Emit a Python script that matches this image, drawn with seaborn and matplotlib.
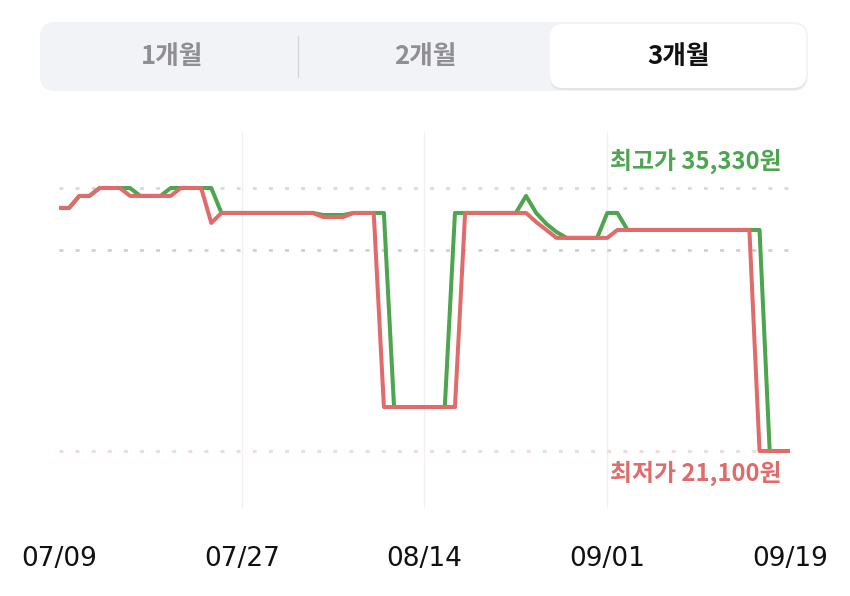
import matplotlib
matplotlib.use('Agg')
import matplotlib.pyplot as plt
import matplotlib.dates as mdates
from matplotlib.patches import FancyBboxPatch
import seaborn as sns
import numpy as np
import pandas as pd

# data (won per day, 07/09 .. 09/19)
dates = pd.date_range('2024-07-09', '2024-09-19', freq='D')
high_price = ([34250, 34250, 34900, 34900, 35330, 35330, 35330, 35330, 34900, 34900, 34900,
               35330, 35330, 35330, 35330, 35330]
              + [33980] * 10 + [33870, 33870, 33870] + [33980] * 4 + [23480] * 6
              + [33980] * 7 + [34900, 33980, 33390, 32950] + [32630] * 4
              + [33980, 33980] + [33060] * 14 + [21100] * 3)
low_price = ([34250, 34250, 34900, 34900, 35330, 35330, 35330, 34900, 34900, 34900, 34900,
              34900, 35330, 35330, 35330, 33440]
             + [33980] * 10 + [33760, 33760, 33760] + [33980] * 3 + [23480] * 8
             + [33980] * 7 + [33490, 33060] + [32630] * 6 + [33060] * 14 + [21100] * 4)
max_price = 35330
min_price = 21100
avg_price = 31980
tab_labels = ['1개월', '2개월', '3개월']
max_label = '최고가 35,330원'
min_label = '최저가 21,100원'

green = '#4DA64F'
red = '#E06B6B'

df = pd.DataFrame({
    'date': list(dates) * 2,
    'price': high_price + low_price,
    'kind': ['high'] * len(dates) + ['low'] * len(dates),
})

sns.set_theme(style='white')
plt.rcParams['font.family'] = ['Noto Sans CJK KR', 'DejaVu Sans']

W, H = 850, 596
fig = plt.figure(figsize=(W / 100, H / 100), dpi=100)
fig.set_facecolor('white')

# tab bar in pixel coords
bg = fig.add_axes([0, 0, 1, 1])
bg.set_xlim(0, W)
bg.set_ylim(H, 0)
bg.axis('off')
bg.add_patch(FancyBboxPatch((40, 22), 768, 69, boxstyle='round,pad=0,rounding_size=15',
                            fc='#F2F3F6', ec='none'))
bg.add_patch(FancyBboxPatch((550, 26), 256, 64, boxstyle='round,pad=0,rounding_size=13',
                            fc='#E2E3E7', ec='none'))
bg.add_patch(FancyBboxPatch((550, 24), 256, 64, boxstyle='round,pad=0,rounding_size=13',
                            fc='white', ec='none'))
bg.plot([298, 298], [36, 77], color='#D6D7DB', lw=1)
for lab, cx, col in zip(tab_labels, [172, 425, 679], ['#8E8E93', '#8E8E93', '#111111']):
    bg.text(cx, 57, lab, ha='center', va='center', fontsize=18.5, fontweight='bold', color=col)

# chart
ax = fig.add_axes([59 / W, 1 - 508 / H, (790 - 59) / W, (508 - 132) / H])
ax.set_facecolor('none')
for d in dates[18:-1:18]:
    ax.axvline(d, color='#F0F0F2', lw=1, zorder=0)
ax.axhline(max_price, color='#D8DAD8', lw=2, ls=(0, (1.4, 4.4)), zorder=1)
ax.axhline(avg_price, color='#D0D0D3', lw=2, ls=(0, (1.4, 4.4)), zorder=1)
ax.axhline(min_price, color='#EED8D8', lw=2, ls=(0, (1.4, 4.4)), zorder=1)

sns.lineplot(data=df, x='date', y='price', hue='kind', hue_order=['high', 'low'],
             palette={'high': green, 'low': red}, lw=2.9, legend=False, ax=ax, zorder=3)
for ln in ax.lines[-2:]:
    ln.set_solid_joinstyle('round')
    ln.set_solid_capstyle('round')

ax.set_xlim(dates[0], dates[-1])
ax.set_ylim(18016, 38360)
ax.set_xticks(dates[::18])
ax.xaxis.set_major_formatter(mdates.DateFormatter('%m/%d'))
ax.tick_params(axis='x', length=0, pad=27, labelsize=19, colors='#111111')
for t in ax.get_xticklabels():
    t.set_fontfamily('DejaVu Sans')
ax.set_yticks([])
ax.set_xlabel('')
ax.set_ylabel('')
for s in ax.spines.values():
    s.set_visible(False)

ax.annotate(max_label, xy=(0.988, max_price), xycoords=ax.get_yaxis_transform(),
            xytext=(0, 19), textcoords='offset points', ha='right', va='center',
            fontsize=17.2, fontweight='bold', color=green)
ax.annotate(min_label, xy=(0.988, min_price), xycoords=ax.get_yaxis_transform(),
            xytext=(0, -16), textcoords='offset points', ha='right', va='center',
            fontsize=17.2, fontweight='bold', color=red)

fig.savefig('out.png', dpi=100)
